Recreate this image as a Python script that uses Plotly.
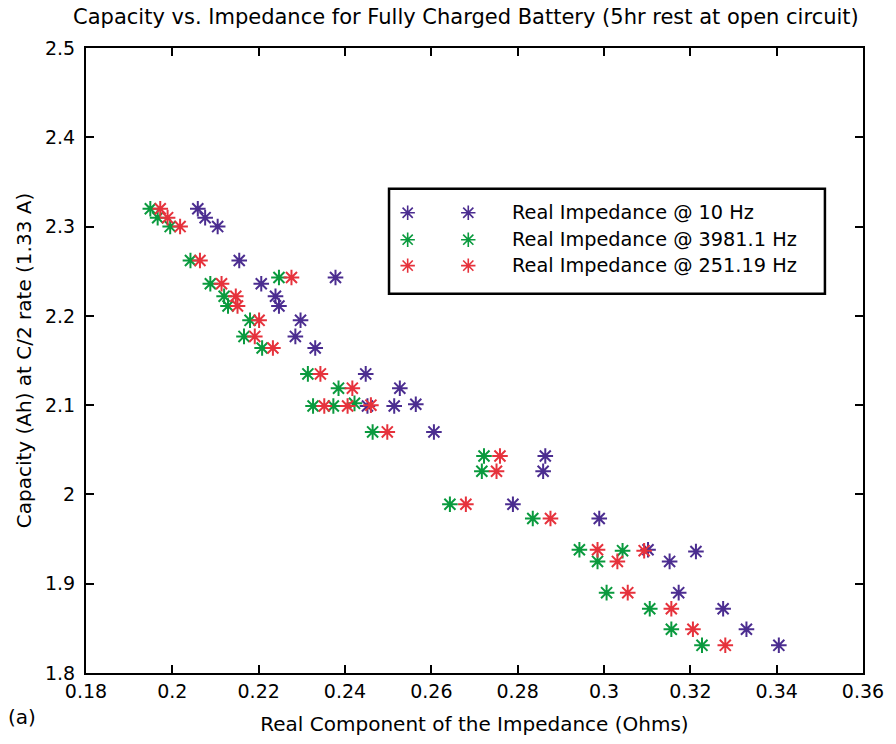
import plotly.graph_objects as go

# ---- data ----
z_10hz = [0.2059, 0.2076, 0.2105, 0.2155, 0.2378, 0.2206, 0.2239, 0.2247, 0.2297, 0.2285, 0.2331,
          0.2448, 0.2527, 0.2452, 0.2514, 0.2564, 0.2606, 0.2864, 0.2859, 0.2789, 0.2989,
          0.3102, 0.3213, 0.3152, 0.3173, 0.3276, 0.3330, 0.3405]
cap_10hz = [2.320, 2.310, 2.300, 2.262, 2.243, 2.236, 2.222, 2.211, 2.195, 2.177, 2.164,
            2.135, 2.119, 2.099, 2.099, 2.101, 2.070, 2.043, 2.026, 1.989, 1.973,
            1.938, 1.936, 1.925, 1.890, 1.872, 1.849, 1.831]

z_3981hz = [0.1949, 0.1966, 0.1995, 0.2042, 0.2247, 0.2088, 0.2120, 0.2129, 0.2180, 0.2166, 0.2208,
            0.2314, 0.2385, 0.2326, 0.2373, 0.2422, 0.2464, 0.2722, 0.2717, 0.2643, 0.2835,
            0.2943, 0.3043, 0.2985, 0.3006, 0.3106, 0.3156, 0.3227]
cap_3981hz = [2.320, 2.310, 2.300, 2.262, 2.243, 2.236, 2.222, 2.211, 2.195, 2.177, 2.164,
              2.135, 2.119, 2.099, 2.099, 2.102, 2.070, 2.043, 2.026, 1.989, 1.973,
              1.938, 1.937, 1.925, 1.890, 1.872, 1.849, 1.831]

z_251hz = [0.1972, 0.1989, 0.2018, 0.2064, 0.2276, 0.2114, 0.2147, 0.2151, 0.2201, 0.2191, 0.2233,
           0.2343, 0.2417, 0.2352, 0.2406, 0.2460, 0.2498, 0.2759, 0.2751, 0.2680, 0.2876,
           0.2985, 0.3093, 0.3031, 0.3055, 0.3156, 0.3206, 0.3281]
cap_251hz = [2.320, 2.310, 2.300, 2.262, 2.243, 2.236, 2.222, 2.211, 2.195, 2.177, 2.164,
             2.135, 2.119, 2.099, 2.099, 2.100, 2.070, 2.043, 2.026, 1.989, 1.973,
             1.938, 1.937, 1.925, 1.890, 1.872, 1.849, 1.831]

series_names = ["Real Impedance @ 10 Hz", "Real Impedance @ 3981.1 Hz", "Real Impedance @ 251.19 Hz"]
series_colors = ["#4b2d90", "#0a9a3e", "#e6323c"]

x_tickvals = [0.18, 0.20, 0.22, 0.24, 0.26, 0.28, 0.30, 0.32, 0.34, 0.36]
x_ticktext = ["0.18", "0.2", "0.22", "0.24", "0.26", "0.28", "0.3", "0.32", "0.34", "0.36"]
y_tickvals = [1.8, 1.9, 2.0, 2.1, 2.2, 2.3, 2.4, 2.5]
y_ticktext = ["1.8", "1.9", "2", "2.1", "2.2", "2.3", "2.4", "2.5"]

FONT = "DejaVu Sans, Liberation Sans, Arial, sans-serif"

fig = go.Figure()
xs = [z_10hz, z_3981hz, z_251hz]
ys = [cap_10hz, cap_3981hz, cap_251hz]
for x, y, name, col in zip(xs, ys, series_names, series_colors):
    fig.add_trace(go.Scatter(
        x=x, y=y, mode="markers", name=name, showlegend=False,
        marker=dict(symbol="asterisk-open", size=13, color=col,
                    line=dict(color=col, width=2)),
    ))

# ---- custom MATLAB-style legend (two sample symbols per entry) ----
leg_rows = [0.7364, 0.6933, 0.6518]
leg_sym_x = [0.414, 0.492]
for row, name, col in zip(leg_rows, series_names, series_colors):
    fig.add_trace(go.Scatter(
        x=leg_sym_x, y=[row, row], mode="markers", xaxis="x2", yaxis="y2",
        showlegend=False, hoverinfo="skip",
        marker=dict(symbol="asterisk-open", size=12, color=col,
                    line=dict(color=col, width=1.6)),
    ))
    fig.add_annotation(x=0.546, y=row, xref="paper", yref="paper", text=name,
                       showarrow=False, xanchor="left", yanchor="middle",
                       font=dict(family=FONT, size=19.3, color="black"))
fig.add_shape(type="rect", xref="paper", yref="paper", x0=0.390, x1=0.951, y0=0.607, y1=0.775,
              line=dict(color="black", width=2.5), fillcolor="rgba(0,0,0,0)")

fig.add_annotation(x=-0.103, y=-0.070, xref="paper", yref="paper", text="(a)",
                   showarrow=False, xanchor="left", yanchor="middle",
                   font=dict(family=FONT, size=20, color="black"))

axis_common = dict(showline=True, linecolor="black", linewidth=2, mirror="allticks",
                   ticks="inside", ticklen=8, tickwidth=1.5, tickcolor="black",
                   showgrid=False, zeroline=False,
                   tickfont=dict(family=FONT, size=19, color="black"))

fig.update_layout(
    width=896, height=744,
    margin=dict(l=86, r=28, t=48, b=70),
    paper_bgcolor="white", plot_bgcolor="white",
    title=dict(text="Capacity vs. Impedance for Fully Charged Battery (5hr rest at open circuit)",
               x=0.52, xanchor="center", y=0.977, yanchor="middle",
               font=dict(family=FONT, size=21, color="black")),
    xaxis=dict(range=[0.18, 0.36], tickvals=x_tickvals, ticktext=x_ticktext,
               title=dict(text="Real Component of the Impedance (Ohms)", standoff=16,
                          font=dict(family=FONT, size=20, color="black")),
               **axis_common),
    yaxis=dict(range=[1.8, 2.5], tickvals=y_tickvals, ticktext=y_ticktext,
               ticklabelstandoff=5,
               title=dict(text="Capacity (Ah) at C/2 rate (1.33 A)", standoff=8,
                          font=dict(family=FONT, size=20, color="black")),
               **axis_common),
    xaxis2=dict(overlaying="x", range=[0, 1], visible=False),
    yaxis2=dict(overlaying="y", range=[0, 1], visible=False),
    showlegend=False,
)

fig.write_html("out.html")
